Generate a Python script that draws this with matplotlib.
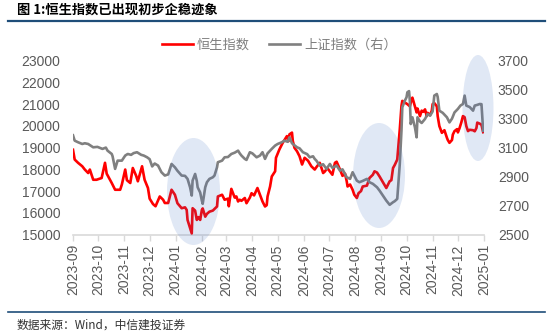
import matplotlib
matplotlib.use("Agg")
import matplotlib.pyplot as plt
import matplotlib.dates as mdates
from matplotlib.patches import Ellipse
from matplotlib.lines import Line2D
import pandas as pd

plt.rcParams['font.family'] = ['Liberation Sans', 'Noto Sans CJK SC', 'DejaVu Sans']

title = "图 1:恒生指数已出现初步企稳迹象"
source = "数据来源：Wind，中信建投证券"
hs_label = "恒生指数"
sh_label = "上证指数（右）"

hs_dates = [
    "2023-09-01", "2023-09-03", "2023-09-07", "2023-09-12", "2023-09-15", "2023-09-19", "2023-09-21", "2023-09-25",
    "2023-09-29", "2023-10-05", "2023-10-09", "2023-10-11", "2023-10-15", "2023-10-17", "2023-10-21", "2023-10-27",
    "2023-10-29", "2023-11-02", "2023-11-04", "2023-11-08", "2023-11-11", "2023-11-15", "2023-11-17", "2023-11-22",
    "2023-11-25", "2023-11-29", "2023-12-01", "2023-12-05", "2023-12-08", "2023-12-13", "2023-12-17", "2023-12-19",
    "2023-12-23", "2023-12-27", "2023-12-31", "2024-01-03", "2024-01-08", "2024-01-12", "2024-01-14", "2024-01-15",
    "2024-01-18", "2024-01-20", "2024-01-21", "2024-01-24", "2024-01-26", "2024-01-28", "2024-01-30", "2024-02-01",
    "2024-02-02", "2024-02-05", "2024-02-07", "2024-02-10", "2024-02-14", "2024-02-19", "2024-02-20", "2024-02-25",
    "2024-02-28", "2024-03-03", "2024-03-04", "2024-03-07", "2024-03-11", "2024-03-13", "2024-03-15", "2024-03-17",
    "2024-03-19", "2024-03-23", "2024-03-25", "2024-03-29", "2024-03-31", "2024-04-03", "2024-04-06", "2024-04-07",
    "2024-04-10", "2024-04-13", "2024-04-16", "2024-04-18", "2024-04-19", "2024-04-22", "2024-04-24", "2024-04-28",
    "2024-04-29", "2024-05-03", "2024-05-07", "2024-05-12", "2024-05-14", "2024-05-15", "2024-05-18", "2024-05-19",
    "2024-05-21", "2024-05-24", "2024-05-27", "2024-05-30", "2024-06-02", "2024-06-06", "2024-06-10", "2024-06-14",
    "2024-06-16", "2024-06-20", "2024-06-24", "2024-06-26", "2024-06-29", "2024-07-02", "2024-07-05", "2024-07-08",
    "2024-07-10", "2024-07-14", "2024-07-17", "2024-07-20", "2024-07-22", "2024-07-23", "2024-07-26", "2024-07-29",
    "2024-07-31", "2024-08-03", "2024-08-05", "2024-08-08", "2024-08-10", "2024-08-15", "2024-08-18", "2024-08-22",
    "2024-08-24", "2024-08-27", "2024-08-30", "2024-09-03", "2024-09-07", "2024-09-11", "2024-09-13", "2024-09-15",
    "2024-09-17", "2024-09-20", "2024-09-23", "2024-09-25", "2024-09-26", "2024-09-30", "2024-10-02", "2024-10-05",
    "2024-10-07", "2024-10-08", "2024-10-11", "2024-10-13", "2024-10-14", "2024-10-17", "2024-10-19", "2024-10-21",
    "2024-10-23", "2024-10-25", "2024-10-26", "2024-10-29", "2024-10-31", "2024-11-01", "2024-11-03", "2024-11-06",
    "2024-11-07", "2024-11-09", "2024-11-12", "2024-11-15", "2024-11-18", "2024-11-19", "2024-11-21", "2024-11-24",
    "2024-11-25", "2024-11-27", "2024-11-30", "2024-12-01", "2024-12-03", "2024-12-05", "2024-12-07", "2024-12-09",
    "2024-12-11", "2024-12-13", "2024-12-15", "2024-12-19", "2024-12-21", "2024-12-23", "2024-12-24", "2024-12-27",
    "2024-12-29", "2024-12-31",
]
hs_values = [
    18900, 18450, 18300, 18140, 17990, 17830, 17990, 17520,
    17520, 17600, 18300, 17800, 17520, 17370, 17060, 17060,
    17300, 17990, 17500, 17370, 18060, 17700, 17450, 18140,
    17520, 17140, 16650, 16400, 16300, 16750, 16600, 16450,
    16450, 17060, 16830, 16440, 16210, 16250, 16130, 15670,
    15290, 15050, 16210, 16100, 15670, 15800, 15670, 16130,
    16200, 15820, 15950, 16050, 16100, 16290, 16750, 16830,
    16600, 16650, 16300, 17100, 16700, 16750, 16520, 16600,
    16550, 16680, 16440, 16700, 16900, 16800, 17060, 17140,
    16830, 16520, 16290, 16350, 16750, 17210, 17670, 17910,
    18530, 18910, 19220, 19530, 19300, 19610, 19690, 19300,
    18990, 18830, 18600, 18220, 18530, 18400, 18140, 17990,
    18100, 18300, 17830, 17900, 18060, 17900, 17750, 18300,
    18350, 17990, 17700, 17800, 17450, 17210, 17300, 17060,
    16830, 16680, 16900, 17000, 17210, 17250, 17600, 17750,
    17910, 17850, 17670, 17400, 17140, 17450, 17500, 18060,
    18200, 18450, 19840, 20920, 21150, 21050, 21000, 20900,
    21220, 21300, 20900, 20620, 20800, 20450, 20700, 20650,
    20760, 20450, 20600, 20500, 20700, 21000, 21050, 20900,
    20450, 19990, 19680, 19800, 19450, 19350, 19220, 19350,
    19600, 19760, 19850, 19700, 19900, 20150, 20450, 20400,
    19990, 19760, 19820, 19800, 19750, 19900, 20150, 20100,
    20050, 19710,
]

sh_dates = [
    "2023-09-01", "2023-09-03", "2023-09-07", "2023-09-12", "2023-09-15", "2023-09-19", "2023-09-25", "2023-09-30",
    "2023-10-06", "2023-10-10", "2023-10-12", "2023-10-17", "2023-10-18", "2023-10-21", "2023-10-24", "2023-10-29",
    "2023-11-02", "2023-11-05", "2023-11-09", "2023-11-12", "2023-11-16", "2023-11-21", "2023-11-24", "2023-11-28",
    "2023-12-01", "2023-12-04", "2023-12-07", "2023-12-11", "2023-12-15", "2023-12-19", "2023-12-23", "2023-12-27",
    "2023-12-31", "2024-01-03", "2024-01-08", "2024-01-12", "2024-01-15", "2024-01-18", "2024-01-20", "2024-01-21",
    "2024-01-24", "2024-01-26", "2024-01-27", "2024-01-30", "2024-02-01", "2024-02-02", "2024-02-05", "2024-02-07",
    "2024-02-10", "2024-02-14", "2024-02-16", "2024-02-19", "2024-02-20", "2024-02-25", "2024-02-28", "2024-03-03",
    "2024-03-07", "2024-03-11", "2024-03-15", "2024-03-17", "2024-03-19", "2024-03-23", "2024-03-25", "2024-03-29",
    "2024-04-01", "2024-04-06", "2024-04-10", "2024-04-13", "2024-04-16", "2024-04-19", "2024-04-24", "2024-04-28",
    "2024-05-01", "2024-05-06", "2024-05-09", "2024-05-13", "2024-05-15", "2024-05-18", "2024-05-19", "2024-05-24",
    "2024-05-27", "2024-05-31", "2024-06-05", "2024-06-08", "2024-06-12", "2024-06-14", "2024-06-16", "2024-06-20",
    "2024-06-24", "2024-06-28", "2024-07-02", "2024-07-05", "2024-07-10", "2024-07-14", "2024-07-17", "2024-07-22",
    "2024-07-26", "2024-07-29", "2024-08-03", "2024-08-06", "2024-08-10", "2024-08-15", "2024-08-18", "2024-08-22",
    "2024-08-27", "2024-08-30", "2024-09-03", "2024-09-07", "2024-09-11", "2024-09-15", "2024-09-17", "2024-09-20",
    "2024-09-23", "2024-09-25", "2024-09-26", "2024-09-29", "2024-10-01", "2024-10-02", "2024-10-04", "2024-10-05",
    "2024-10-06", "2024-10-08", "2024-10-11", "2024-10-13", "2024-10-14", "2024-10-17", "2024-10-19", "2024-10-23",
    "2024-10-26", "2024-10-29", "2024-11-01", "2024-11-03", "2024-11-06", "2024-11-07", "2024-11-09", "2024-11-13",
    "2024-11-18", "2024-11-21", "2024-11-24", "2024-11-27", "2024-12-01", "2024-12-04", "2024-12-07", "2024-12-09",
    "2024-12-11", "2024-12-15", "2024-12-19", "2024-12-21", "2024-12-24", "2024-12-27", "2024-12-29", "2024-12-31",
]
sh_values = [
    3185, 3148, 3137, 3125, 3130, 3125, 3102, 3105,
    3091, 3100, 3079, 3056, 3040, 2953, 3010, 3010,
    3045, 3056, 3050, 3062, 3068, 3050, 3045, 3033,
    3020, 2970, 2990, 2976, 2930, 2907, 2915, 2987,
    2964, 2940, 2907, 2905, 2884, 2826, 2769, 2872,
    2918, 2870, 2826, 2790, 2734, 2712, 2826, 2861,
    2884, 2895, 2907, 2964, 2999, 3010, 3033, 3035,
    3056, 3065, 3079, 3060, 3045, 3022, 3015, 3068,
    3060, 3033, 3045, 3068, 3022, 3060, 3091, 3114,
    3125, 3137, 3148, 3140, 3171, 3130, 3125, 3102,
    3095, 3068, 3055, 3033, 3040, 3022, 3010, 2976,
    2985, 2953, 2987, 2960, 2976, 2941, 2950, 2895,
    2884, 2930, 2872, 2861, 2870, 2884, 2861, 2850,
    2826, 2803, 2769, 2734, 2705, 2723, 2730, 2746,
    2987, 3217, 3378, 3424, 3447, 3482, 3490, 3420,
    3263, 3309, 3240, 3171, 3309, 3280, 3270, 3298,
    3332, 3320, 3350, 3459, 3470, 3450, 3355, 3340,
    3309, 3274, 3300, 3343, 3367, 3390, 3401, 3459,
    3390, 3380, 3355, 3390, 3395, 3401, 3400, 3217,
]

left_ticks = [15000, 16000, 17000, 18000, 19000, 20000, 21000, 22000, 23000]
right_ticks = [2500, 2700, 2900, 3100, 3300, 3500, 3700]

W, H = 550, 334
fig = plt.figure(figsize=(W / 100, H / 100), dpi=100)

def fx(px):
    return px / W

def fy(py):
    return 1 - py / H

ax = fig.add_axes([fx(73), fy(234.5), fx(484) - fx(73), fy(60.7) - fy(234.5)])
ax2 = ax.twinx()

red = '#ff0000'
gray = '#808080'
l1, = ax.plot(pd.to_datetime(hs_dates), hs_values, color=red, lw=1.9, label=hs_label, zorder=3)
l2, = ax2.plot(pd.to_datetime(sh_dates), sh_values, color=gray, lw=1.9, label=sh_label, zorder=3)

ax.set_xlim(pd.Timestamp("2023-09-01"), pd.Timestamp("2025-01-01"))
ax.set_ylim(15000, 23000)
ax2.set_ylim(2500, 3700)
ax.set_yticks(left_ticks)
ax2.set_yticks(right_ticks)

ax.xaxis.set_major_locator(mdates.MonthLocator())
ax.xaxis.set_major_formatter(mdates.DateFormatter('%Y-%m'))
tick_color = '#595959'
for a in (ax, ax2):
    for s in a.spines.values():
        s.set_visible(False)
ax.spines['bottom'].set_visible(True)
ax.spines['bottom'].set_color('#d9d9d9')
ax.spines['bottom'].set_linewidth(1.2)

ax.tick_params(axis='x', direction='out', length=4, width=1.0, color='#d9d9d9',
               labelsize=10, labelcolor=tick_color, pad=3, labelrotation=90)
ax.tick_params(axis='y', length=0, labelsize=10, labelcolor=tick_color, pad=9)
ax2.tick_params(axis='y', length=0, labelsize=10, labelcolor=tick_color, pad=10)
for lab in ax.get_xticklabels():
    lab.set_horizontalalignment('center')

# highlight ellipses (translucent overlay)
ell_specs = [(193.5, 191.5, 53, 107), (379, 175.5, 52, 105), (478, 108, 31, 106)]
for cx, cy, w, h in ell_specs:
    e = Ellipse((fx(cx), fy(cy)), w / W, h / H, transform=fig.transFigure,
                facecolor='#4472c4', edgecolor='none', alpha=0.16, clip_on=False, zorder=5)
    fig.add_artist(e)

# legend
leg = fig.legend(handles=[l1, l2], loc='center left', bbox_to_anchor=(fx(162), fy(45)),
                 ncol=2, frameon=False, fontsize=9.5, handlelength=2.35, handletextpad=0.3,
                 columnspacing=1.45, borderpad=0, borderaxespad=0,
                 prop={'family': ['Noto Sans CJK SC'], 'size': 9.5})
for t in leg.get_texts():
    t.set_color('#7f7f7f')

# title and rules
fig.text(fx(17), fy(9.5), title, fontsize=9.5, fontweight='bold', va='center', ha='left',
         family=['Noto Sans CJK SC', 'DejaVu Sans'], color='#000000')
fig.add_artist(Line2D([fx(8), fx(545)], [fy(20.5), fy(20.5)], color='#1f4e79', lw=1.6))
fig.add_artist(Line2D([fx(8), fx(545)], [fy(312), fy(312)], color='#1f4e79', lw=1.2))
fig.text(fx(17), fy(325), source, fontsize=8.5, va='center', ha='left', style='italic',
         family=['Noto Sans CJK SC', 'DejaVu Sans'], color='#333333')

fig.savefig('out.png', dpi=100)
